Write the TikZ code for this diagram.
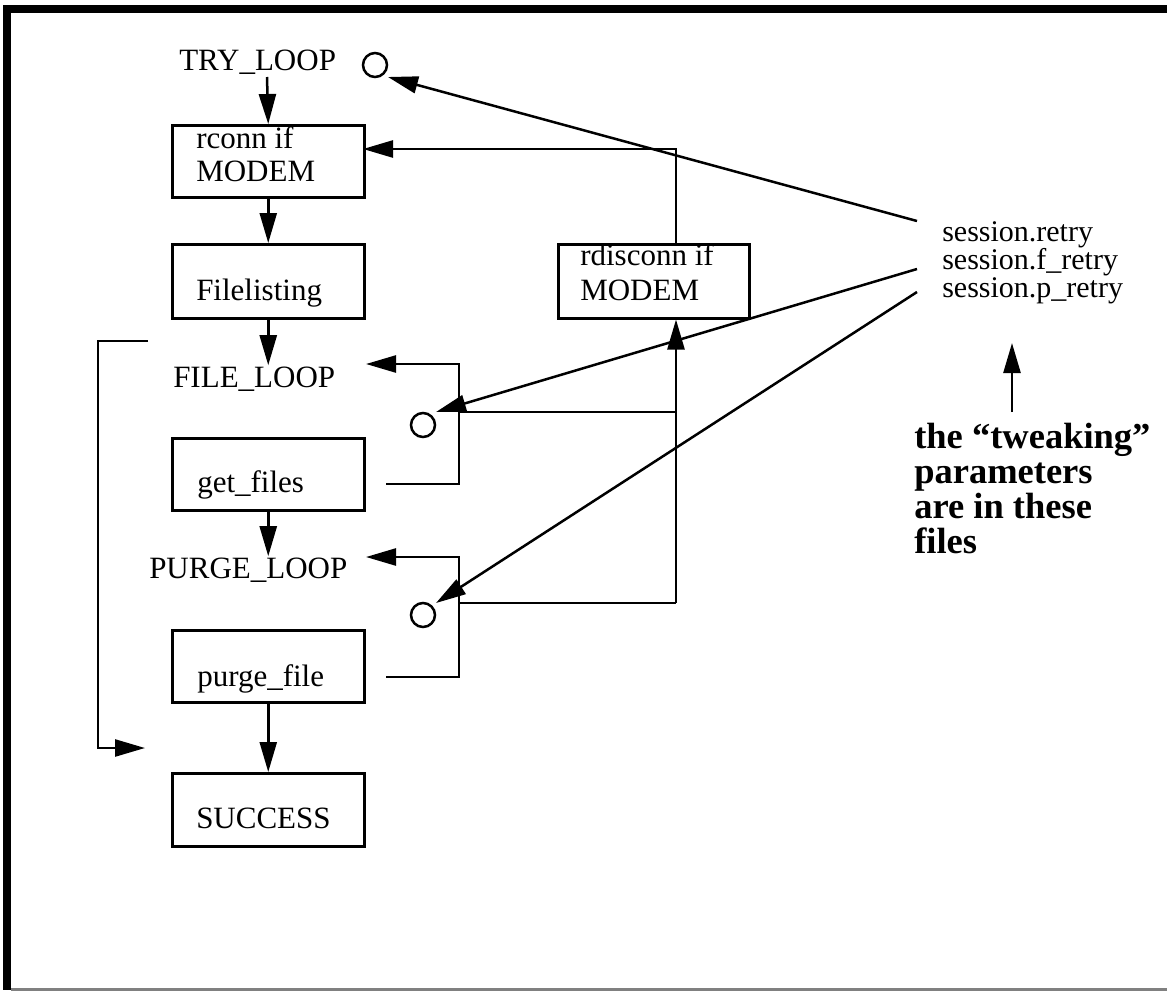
\documentclass[tikz,border=0pt]{standalone}
\usepackage{fontspec}
\setmainfont{Liberation Serif}
\usetikzlibrary{arrows.meta}
\begin{document}
\begin{tikzpicture}[x=1pt,y=-1pt,
  line width=2.5pt,
  box/.style={draw, line width=2.5pt, minimum width=192pt, minimum height=72pt, inner sep=0pt, anchor=north west},
  lbl/.style={anchor=base west, inner sep=0pt, font=\fontsize{31}{31}\selectfont},
  circ/.style={draw, circle, minimum size=24pt, inner sep=0pt, line width=2.5pt},
  arr/.style={-{Triangle[length=30pt,width=17pt]}, line width=2.5pt},
  plain/.style={line width=2.5pt},
]
\useasboundingbox (0,0) rectangle (1167,991);
% frame
\fill (3,5) rectangle (11,990);
\fill (3,5) rectangle (1167,13);
\fill[gray] (11,988) rectangle (1167,990.5);

% boxes
\node[box] (rconn) at (171,124) {};
\node[box, minimum height=74pt] (fl) at (171,243) {};
\node[box] (gf) at (171,437) {};
\node[box] (pf) at (171,629) {};
\node[box, minimum height=73pt] (succ) at (171,772) {};
\node[box, minimum width=191pt, minimum height=74pt] (rd) at (557,243) {};

% texts (multi-line nodes are placed by the baseline of their last line)
\node[lbl] (tryl) at (178,70) {TRY\_LOOP};
\node[lbl, align=left, font=\fontsize{31}{33}\selectfont] (rc1) at (195,181) {rconn if\\MODEM};
\node[lbl] (flt) at (195,300) {Filelisting};
\node[lbl] (filel) at (172,387) {FILE\_LOOP};
\node[lbl] (gft) at (196,492) {get\_files};
\node[lbl] (purgel) at (148,578) {PURGE\_LOOP};
\node[lbl] (pft) at (196,686) {purge\_file};
\node[lbl] (succt) at (195,828) {SUCCESS};
\node[lbl, align=left, font=\fontsize{31}{35}\selectfont] (rd1) at (579,300) {rdisconn if\\MODEM};
\node[lbl, align=left, font=\fontsize{30}{28}\selectfont] (sess) at (941,297) {session.retry\\session.f\_retry\\session.p\_retry};
\node[lbl, align=left, font=\fontsize{36.5}{35}\selectfont\bfseries] (bold) at (913,553) {the “tweaking”\\parameters\\are in these\\files};

% circles
\node[circ] (c1) at (375,65) {};
\node[circ] (c2) at (423,425) {};
\node[circ] (c3) at (423,615) {};

% coordinates
\coordinate (a0) at (267,77);
\coordinate (lb0) at (148,341);
\coordinate (lb1) at (98,341);
\coordinate (lb2) at (98,748);
\coordinate (lb3) at (145,748);
\coordinate (ff0) at (386,484);
\coordinate (ff1) at (459,484);
\coordinate (ff2) at (459,364);
\coordinate (ff3) at (366,364);
\coordinate (pp0) at (386,677);
\coordinate (pp1) at (459,677);
\coordinate (pp2) at (459,557);
\coordinate (pp3) at (366,557);
\coordinate (v0) at (676,603);
\coordinate (v1) at (676,412);
\coordinate (v2) at (676,149);
\coordinate (j1) at (459,412);
\coordinate (j2) at (459,603);
\coordinate (rcin) at (363,149);
\coordinate (e1) at (917,221);
\coordinate (e2) at (917,269);
\coordinate (e3) at (917,292);
\coordinate (t1) at (388,77);
\coordinate (t2) at (436,412);
\coordinate (t3) at (436,603);
\coordinate (u0) at (1012,412);
\coordinate (u1) at (1012,343);

% main flow
\draw[arr] (a0) -- (rconn.north);
\draw[arr] (rconn.south) -- (fl.north);
\draw[arr] (fl.south) -- (fl.south |- filel.north);
\draw[arr] (gf.south) -- (gf.south |- purgel.north);
\draw[arr] (pf.south) -- (succ.north);

% left bracket
\draw[arr] (lb0) -- (lb1) -- (lb2) -- (lb3);

% loop feedbacks
\draw[arr] (ff0) -- (ff1) -- (ff2) -- (ff3);
\draw[arr] (pp0) -- (pp1) -- (pp2) -- (pp3);

% rdisconn network
\draw[arr] (rd.north -| v2) -- (v2) -- (rcin);
\draw[arr] (v0) -- (rd.south -| v0);
\draw[plain] (j1) -- (v1);
\draw[plain] (j2) -- (v0);

% session arrows
\draw[arr] (e1) -- (t1);
\draw[arr] (e2) -- (t2);
\draw[arr] (e3) -- (t3);
\draw[arr] (u0) -- (u1);
\end{tikzpicture}
\end{document}
